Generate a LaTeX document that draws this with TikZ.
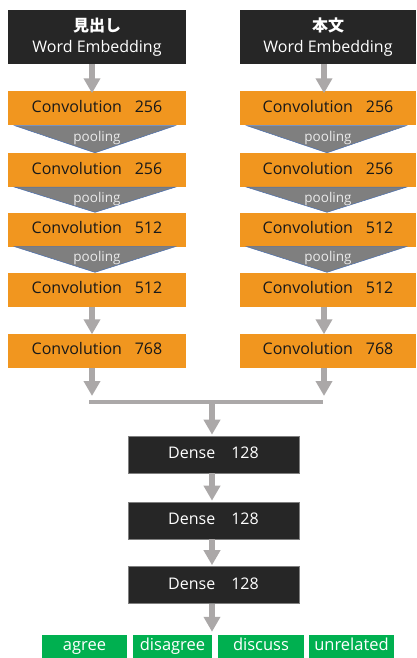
\documentclass[tikz,border=0pt]{standalone}
\usepackage{fontspec}
\setmainfont{Open Sans}
\newfontfamily\jpfont{Noto Sans CJK JP}
\usetikzlibrary{arrows.meta,calc}
\definecolor{convorange}{HTML}{F1961F}
\definecolor{darkbox}{HTML}{262626}
\definecolor{poolgray}{HTML}{7F7F7F}
\definecolor{poolline}{HTML}{4A6FB0}
\definecolor{arrowgray}{HTML}{ABA8A8}
\definecolor{labelgreen}{HTML}{00B050}
\begin{document}
\begin{tikzpicture}[x=1pt,y=-1pt,
  header/.style={fill=darkbox, text=white, minimum height=54pt, inner sep=0pt, align=center, font=\fontsize{16}{21}\selectfont},
  conv/.style={fill=convorange, text=black!90, minimum height=34pt, inner sep=0pt, text height=12pt, text depth=4pt, font=\fontsize{16}{19}\selectfont},
  dense/.style={fill=darkbox, draw=poolgray, line width=0.6pt, text=white, minimum width=171pt, minimum height=37pt, inner sep=0pt, text height=12pt, text depth=4pt, font=\fontsize{16}{19}\selectfont},
  outbox/.style={fill=labelgreen, text=white, minimum height=23pt, inner sep=0pt, text height=12pt, text depth=4pt, font=\fontsize{16.5}{19}\selectfont},
  pool/.style={fill=poolgray, draw=poolline, line width=0.5pt},
  pooltext/.style={text=white!92!black, inner sep=0pt, font=\fontsize{13.5}{15}\selectfont},
  flow/.style={draw=arrowgray, line width=6pt, -{Triangle[width=16pt,length=15pt]}},
  bar/.style={draw=arrowgray, line width=4pt}
]
\useasboundingbox (0,0) rectangle (416,658);

% headers
\node[header, minimum width=178pt] (hL) at (97,37) {{\jpfont\bfseries 見出し}\\Word Embedding};
\node[header, minimum width=176pt] (hR) at (328,37) {{\jpfont\bfseries 本文}\\Word Embedding};

% left column
\node[conv, minimum width=178pt] (c1L) at (97,108.5) {Convolution\hspace{0.8em}256};
\node[conv, minimum width=178pt] (c2L) at (97,170) {Convolution\hspace{0.8em}256};
\node[conv, minimum width=178pt] (c3L) at (97,229.5) {Convolution\hspace{0.8em}512};
\node[conv, minimum width=178pt] (c4L) at (97,289.5) {Convolution\hspace{0.8em}512};
\node[conv, minimum width=178pt] (c5L) at (97,350.5) {Convolution\hspace{0.8em}768};

% right column
\node[conv, minimum width=176pt] (c1R) at (328,108.5) {Convolution\hspace{0.8em}256};
\node[conv, minimum width=176pt] (c2R) at (328,170) {Convolution\hspace{0.8em}256};
\node[conv, minimum width=176pt] (c3R) at (328,229.5) {Convolution\hspace{0.8em}512};
\node[conv, minimum width=176pt] (c4R) at (328,289.5) {Convolution\hspace{0.8em}512};
\node[conv, minimum width=176pt] (c5R) at (328,350.5) {Convolution\hspace{0.8em}768};

% pooling triangles
\foreach \a/\b in {c1L/c2L,c2L/c3L,c3L/c4L}{
  \filldraw[pool] ($(\a.south west)+(7,0)$) -- ($(\a.south east)+(-11,0)$) -- ($(\b.north)+(-2,0)$) -- cycle;
  \node[pooltext] at ($(\a.south)!0.45!(\b.north)$) {pooling};
}
\foreach \a/\b in {c1R/c2R,c2R/c3R,c3R/c4R}{
  \filldraw[pool] ($(\a.south west)+(7,0)$) -- ($(\a.south east)+(-10,0)$) -- ($(\b.north)+(-1,0)$) -- cycle;
  \node[pooltext] at ($(\a.south)!0.45!(\b.north)$) {pooling};
}

% arrows in columns
\coordinate (axL) at (92,0);
\coordinate (axR) at (324,0);
\draw[flow] (hL.south -| axL) -- ($(c1L.north -| axL)+(0,2)$);
\draw[flow] (hR.south -| axR) -- ($(c1R.north -| axR)+(0,2)$);
\draw[flow] (c4L.south -| axL) -- ($(c5L.north -| axL)+(0,1)$);
\draw[flow] (c4R.south -| axR) -- ($(c5R.north -| axR)+(0,1)$);

% merge bar
\coordinate (barL) at (89,402);
\coordinate (barR) at (323,402);
\coordinate (barM) at (212,402);
\draw[flow] (c5L.south -| axL) -- ($(barL -| axL)+(0,-6)$);
\draw[flow] (c5R.south -| axR) -- ($(barR -| axR)+(0,-6)$);
\draw[bar] (barL) -- (barR);

% dense
\node[dense] (d1) at (213.5,454.5) {Dense\hspace{1em}128};
\node[dense] (d2) at (213.5,520.5) {Dense\hspace{1em}128};
\node[dense] (d3) at (213.5,585) {Dense\hspace{1em}128};

\draw[flow] ($(barM)+(0,2)$) -- ($(d1.north -| barM)+(0,-1)$);
\draw[flow] (d1.south -| barM) -- ($(d2.north -| barM)+(0,-1)$);
\draw[flow] (d2.south -| barM) -- ($(d3.north -| barM)+(0,-1)$);

% outputs
\node[outbox, minimum width=85pt] (o1) at (84.5,646.5) {agree};
\node[outbox, minimum width=79pt] (o2) at (172.5,646.5) {disagree};
\node[outbox, minimum width=86pt] (o3) at (261,646.5) {discuss};
\node[outbox, minimum width=85pt] (o4) at (351.5,646.5) {unrelated};
\draw[flow] (d3.south -| barM) -- ($(o2.north -| barM)+(0,-3)$);
\end{tikzpicture}
\end{document}
